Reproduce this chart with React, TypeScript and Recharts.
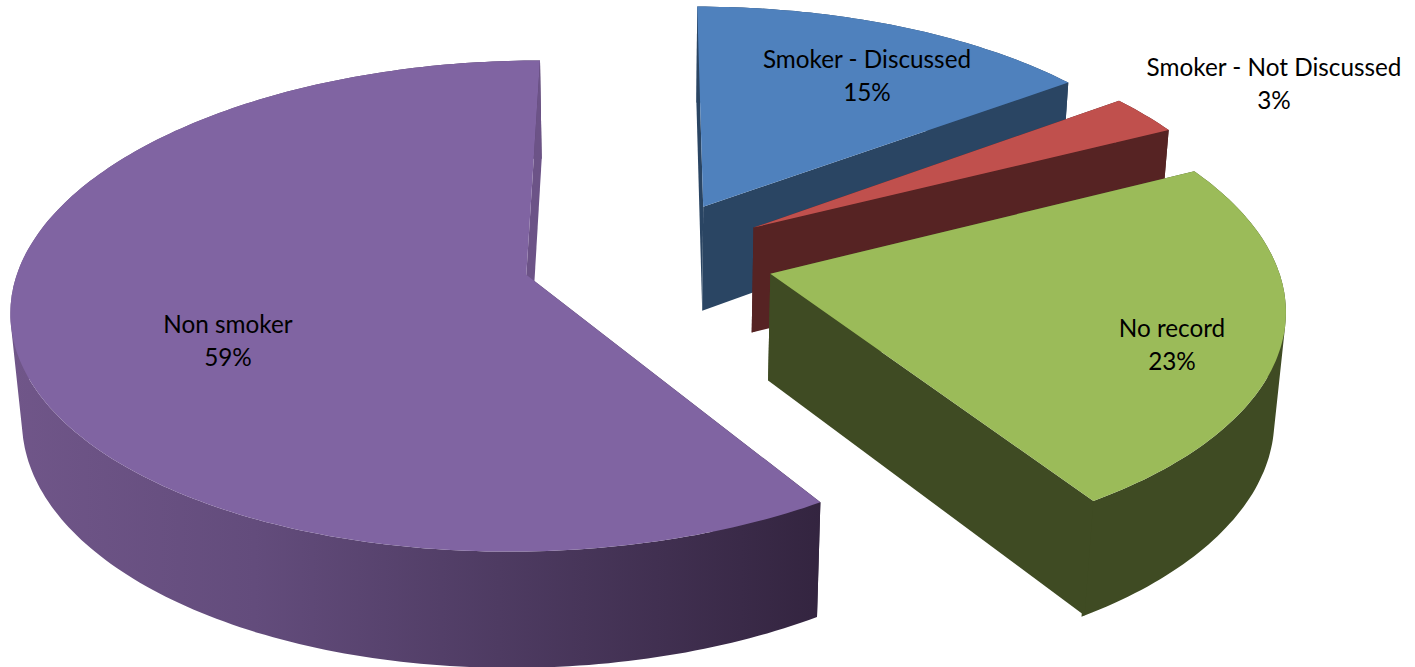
import { PieChart, Pie } from 'recharts'

const categories = ['Smoker - Discussed', 'Smoker - Not Discussed', 'No record', 'Non smoker']
const shares = [14.9, 2.7, 23.3, 59.1]
const topColors = ['#4F81BD', '#C0504D', '#9BBB59', '#8064A2']
const wallColors = ['#2A4563', '#562323', '#3F4B23', 'url(#purpleWall)']
const endWallColors = ['#2A4563', '#562323', '#3F4B23', '#6C5387']

const data = categories.map((name, i) => ({ name, value: shares[i] }))

// label centre x and first baseline y, same order as categories
const labelX = [867, 1274, 1172, 228]
const labelY = [68, 76, 337, 333]

// fake 3d: pie plane seen at an angle with some perspective
const SQUASH = 0.47
const PERSPECTIVE = 0.126
const DEPTH = 108
const SHRINK = 0.018
const EXPLODE = 0.249

function project(cx: number, cy: number, r: number, x: number, y: number, z: number) {
  const w = 1 - PERSPECTIVE * y + SHRINK * z
  return [cx + (r * x) / w, cy + (r * SQUASH * y + DEPTH * z) / w]
}

function toPath(points: number[][]) {
  return points.map((p, i) => `${i ? 'L' : 'M'}${p[0].toFixed(1)},${p[1].toFixed(1)}`).join(' ') + ' Z'
}

// same winding for every quad so the nonzero fill gives their union
function quadPath(q: number[][]) {
  let area = 0
  q.forEach((p, i) => {
    const n = q[(i + 1) % q.length]
    area += p[0] * n[1] - n[0] * p[1]
  })
  return toPath(area < 0 ? q.slice().reverse() : q)
}

function Slice3D(props: any) {
  const { cx, cy, outerRadius, startAngle, endAngle, index } = props
  const mid = ((startAngle + endAngle) / 2) * (Math.PI / 180)
  const ox = Math.cos(mid) * EXPLODE
  const oy = -Math.sin(mid) * EXPLODE
  const at = (deg: number, rad: number, z: number) => {
    const a = (deg * Math.PI) / 180
    return project(cx, cy, outerRadius, ox + Math.cos(a) * rad, oy - Math.sin(a) * rad, z)
  }
  const steps = Math.max(4, Math.ceil(Math.abs(endAngle - startAngle)))
  const angles = Array.from({ length: steps + 1 }, (_, i) => startAngle + ((endAngle - startAngle) * i) / steps)
  const rimTop = angles.map((a) => at(a, 1, 0))
  const rimBottom = angles.map((a) => at(a, 1, 1))
  // front corners: run the rim a bit under the end wall so no seam shows
  const overlap = Math.sin((endAngle * Math.PI) / 180) < 0 ? 0.4 : 0
  const wallTop = [...rimTop, at(endAngle - overlap, 1, 0)]
  const wallBottom = [...rimBottom, at(endAngle - overlap, 1, 1)]
  const rimWall = wallTop
    .slice(1)
    .map((p, i) => quadPath([wallTop[i], p, wallBottom[i + 1], wallBottom[i]]))
    .join(' ')
  return (
    <g>
      <path d={quadPath([at(0, 0, 0), rimTop[0], rimBottom[0], at(0, 0, 1)])} fill={wallColors[index]} />
      <path d={rimWall} fill={wallColors[index]} />
      <path d={quadPath([at(0, 0, 0), rimTop[steps], rimBottom[steps], at(0, 0, 1)])} fill={endWallColors[index]} />
      <path d={toPath([at(0, 0, 0), ...rimTop])} fill={topColors[index]} />
    </g>
  )
}

function SliceLabel(props: any) {
  const { index, name, value } = props
  return (
    <text x={labelX[index]} y={labelY[index]} textAnchor="middle" fontFamily="Lato" fontSize={24.3} fill="#000">
      <tspan x={labelX[index]}>{name}</tspan>
      <tspan x={labelX[index]} dy={33}>{Math.round(value)}%</tspan>
    </text>
  )
}

export default function App() {
  return (
    <div style={{ position: 'absolute', left: 0, top: 0, width: 1415, height: 667, background: '#fff' }}>
      <PieChart width={1415} height={667} margin={{ top: 0, right: 0, bottom: 0, left: 0 }}>
        <defs>
          <linearGradient id="purpleWall" gradientUnits="userSpaceOnUse" x1="10" y1="0" x2="825" y2="0">
            <stop offset="0" stopColor="#705689" />
            <stop offset="0.3" stopColor="#634C7C" />
            <stop offset="0.6" stopColor="#4E3B62" />
            <stop offset="1" stopColor="#33243F" />
          </linearGradient>
        </defs>
        <Pie
          data={data}
          dataKey="value"
          nameKey="name"
          cx={648}
          cy={258}
          innerRadius={0}
          outerRadius={505}
          startAngle={90}
          endAngle={-270}
          stroke="none"
          shape={Slice3D}
          label={SliceLabel}
          labelLine={false}
          isAnimationActive={false}
        />
      </PieChart>
    </div>
  )
}
